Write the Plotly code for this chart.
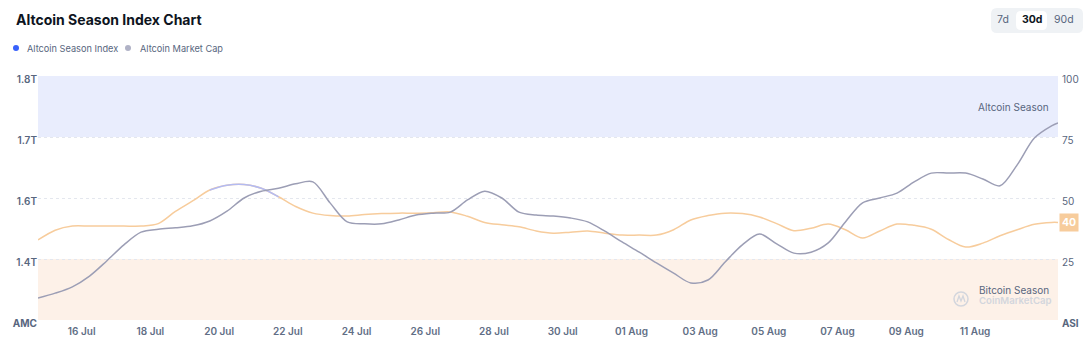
import pandas as pd
import plotly.graph_objects as go

# 12-hourly samples plus the latest reading
times = list(pd.date_range("2025-07-14 17:30", periods=60, freq="12h")) + [pd.Timestamp("2025-08-13 10:00")]

# Altcoin Season Index (0-100)
asi = [32.8, 36.8, 38.5, 38.5, 38.5, 38.5, 38.5, 39.5, 44.5, 48.8,
       53.3, 55.2, 55.5, 54.0, 50.5, 46.5, 43.8, 42.8, 42.6, 43.2,
       43.6, 43.8, 43.8, 44.0, 44.3, 42.5, 40.0, 39.0, 38.2, 36.5,
       35.6, 36.0, 36.5, 35.6, 34.8, 34.8, 34.8, 37.0, 41.0, 42.8,
       43.8, 43.6, 42.2, 39.5, 36.6, 37.6, 39.3, 37.0, 33.6, 36.5,
       39.3, 38.8, 37.2, 33.0, 29.9, 31.5, 34.5, 37.0, 39.2, 40.0, 40.0]

# Altcoin market cap, trillions USD
mcap = [1.345, 1.355, 1.368, 1.390, 1.421, 1.454, 1.480, 1.486, 1.489, 1.493,
        1.503, 1.523, 1.550, 1.564, 1.570, 1.579, 1.583, 1.540, 1.501, 1.497,
        1.497, 1.505, 1.515, 1.519, 1.521, 1.546, 1.564, 1.550, 1.521, 1.515,
        1.513, 1.509, 1.501, 1.482, 1.460, 1.439, 1.417, 1.396, 1.376, 1.382,
        1.419, 1.454, 1.476, 1.456, 1.437, 1.439, 1.458, 1.501, 1.540, 1.550,
        1.560, 1.583, 1.601, 1.601, 1.601, 1.589, 1.575, 1.618, 1.673, 1.698, 1.704]

x_ticks = ["2025-07-16", "2025-07-18", "2025-07-20", "2025-07-22", "2025-07-24", "2025-07-26",
           "2025-07-28", "2025-07-30", "2025-08-01", "2025-08-03", "2025-08-05", "2025-08-07",
           "2025-08-09", "2025-08-11"]
x_ticktext = ["16 Jul", "18 Jul", "20 Jul", "22 Jul", "24 Jul", "26 Jul", "28 Jul", "30 Jul",
              "01 Aug", "03 Aug", "05 Aug", "07 Aug", "09 Aug", "11 Aug"]
asi_ticks = [0, 25, 50, 75, 100]
asi_ticktext = ["<b>ASI</b>", "25", "50", "75", "100"]
mcap_ticks = [1.3, 1.425, 1.55, 1.675, 1.8]
mcap_ticktext = ["<b>AMC</b>", "1.4T", "1.6T", "1.7T", "1.8T"]
ranges = ["7d", "30d", "90d"]

W, H = 1092, 346
L, R, T, B = 38, 34, 76, 26
PW, PH = W - L - R, H - T - B

def px(x):
    return (x - L) / PW

def py(y):
    return (H - B - y) / PH

def rrect(x0, y0, x1, y1, r):
    pts = [
        f"M{px(x0 + r)},{py(y0)}", f"L{px(x1 - r)},{py(y0)}", f"Q{px(x1)},{py(y0)} {px(x1)},{py(y0 + r)}",
        f"L{px(x1)},{py(y1 - r)}", f"Q{px(x1)},{py(y1)} {px(x1 - r)},{py(y1)}",
        f"L{px(x0 + r)},{py(y1)}", f"Q{px(x0)},{py(y1)} {px(x0)},{py(y1 - r)}",
        f"L{px(x0)},{py(y0 + r)}", f"Q{px(x0)},{py(y0)} {px(x0 + r)},{py(y0)}", "Z",
    ]
    return " ".join(pts)

FONT = "Inter, Roboto, sans-serif"
ORANGE = "#f7cc9c"
BLUE = "#b3bbf3"
GRAY = "#9c9eb5"
TXT = "#58667e"

fig = go.Figure()

fig.add_trace(go.Scatter(x=times, y=asi, mode="lines", yaxis="y",
                         line=dict(color=ORANGE, width=1.5, shape="spline", smoothing=0.9),
                         hoverinfo="skip"))
asi_alt = [v if v >= 50 else None for v in asi]
fig.add_trace(go.Scatter(x=times, y=asi_alt, mode="lines", yaxis="y", connectgaps=False,
                         line=dict(color=BLUE, width=1.5, shape="spline", smoothing=0.9),
                         hoverinfo="skip"))
fig.add_trace(go.Scatter(x=times, y=mcap, mode="lines", yaxis="y2",
                         line=dict(color=GRAY, width=1.5, shape="spline", smoothing=0.9),
                         hoverinfo="skip"))

WM = "#d3d6dd"
shapes = [
    dict(type="rect", xref="paper", yref="y", x0=0, x1=1, y0=75, y1=100,
         fillcolor="#e9edfd", line_width=0, layer="below"),
    dict(type="rect", xref="paper", yref="y", x0=0, x1=1, y0=0, y1=25,
         fillcolor="#fdf1e8", line_width=0, layer="below"),
    # legend dots
    dict(type="circle", xref="paper", yref="paper", x0=px(13), x1=px(19), y0=py(45), y1=py(51),
         fillcolor="#3861fb", line_width=0),
    dict(type="circle", xref="paper", yref="paper", x0=px(125), x1=px(131), y0=py(45), y1=py(51),
         fillcolor="#b0b2c6", line_width=0),
    # range selector
    dict(type="path", xref="paper", yref="paper", path=rrect(991, 8, 1083, 33, 6),
         fillcolor="#eff2f5", line_width=0),
    dict(type="path", xref="paper", yref="paper", path=rrect(1016, 11, 1047, 30, 5),
         fillcolor="#ffffff", line_width=0),
    # watermark logo
    dict(type="circle", xref="paper", yref="paper", x0=px(954), x1=px(968), y0=py(292), y1=py(306),
         line=dict(color=WM, width=1.5)),
    dict(type="path", xref="paper", yref="paper",
         path=f"M{px(957)},{py(302)} L{px(959)},{py(296)} L{px(961)},{py(301)} L{px(963)},{py(296)} L{px(965)},{py(302)}",
         line=dict(color=WM, width=1.3)),
]

annotations = [
    dict(x=px(14), y=py(19), xref="paper", yref="paper", xanchor="left", yanchor="middle",
         text="<b>Altcoin Season Index Chart</b>", showarrow=False,
         font=dict(family=FONT, size=14, color="#0d1421")),
    dict(x=px(25), y=py(48), xref="paper", yref="paper", xanchor="left", yanchor="middle",
         text="Altcoin Season Index", showarrow=False, font=dict(family=FONT, size=9.2, color=TXT)),
    dict(x=px(138), y=py(48), xref="paper", yref="paper", xanchor="left", yanchor="middle",
         text="Altcoin Market Cap", showarrow=False, font=dict(family=FONT, size=9.2, color=TXT)),
    dict(x=px(1051), y=py(107), xref="paper", yref="paper", xanchor="right", yanchor="middle",
         text="Altcoin Season", showarrow=False, font=dict(family=FONT, size=10, color=TXT)),
    dict(x=px(1051), y=py(290), xref="paper", yref="paper", xanchor="right", yanchor="middle",
         text="Bitcoin Season", showarrow=False, font=dict(family=FONT, size=10, color=TXT)),
    dict(x=px(1053), y=py(300), xref="paper", yref="paper", xanchor="right", yanchor="middle",
         text="CoinMarketCap", showarrow=False, font=dict(family=FONT, size=9.6, color=WM, weight=600)),
    dict(x=px(1068.5), y=asi[-1], xref="paper", yref="y", xanchor="center", yanchor="middle",
         text=f"<b>{asi[-1]:.0f}</b>", showarrow=False, bgcolor=ORANGE, borderpad=2,
         font=dict(family=FONT, size=10.5, color="#ffffff")),
]
for label, cx in zip(ranges, [1003, 1031.5, 1064]):
    sel = label == "30d"
    annotations.append(dict(x=px(cx), y=py(20), xref="paper", yref="paper", xanchor="center",
                            yanchor="middle", text=f"<b>{label}</b>" if sel else label, showarrow=False,
                            font=dict(family=FONT, size=10.5, color="#0d1421" if sel else TXT)))

fig.update_layout(
    width=W, height=H,
    margin=dict(l=L, r=R, t=T, b=B, autoexpand=False),
    plot_bgcolor="white", paper_bgcolor="white",
    showlegend=False,
    shapes=shapes, annotations=annotations,
    xaxis=dict(type="date", range=[times[0], times[-1]], tickvals=x_ticks, ticktext=x_ticktext,
               showgrid=False, zeroline=False, showline=False, ticks="", ticklabelstandoff=4,
               automargin=False,
               tickfont=dict(family=FONT, size=10, color="#616e85", weight=600)),
    yaxis=dict(side="right", range=[0, 100], tickvals=asi_ticks, ticktext=asi_ticktext,
               showgrid=True, gridcolor="#e4e7ee", griddash="dot", zeroline=False, showline=False,
               ticks="", ticklabelshift=3, ticklabelstandoff=3, automargin=False,
               tickfont=dict(family=FONT, size=10, color=TXT)),
    yaxis2=dict(overlaying="y", side="left", range=[1.3, 1.8], tickvals=mcap_ticks,
                ticktext=mcap_ticktext, showgrid=False, zeroline=False, showline=False, ticks="",
                ticklabelshift=3, automargin=False,
                tickfont=dict(family=FONT, size=10, color=TXT, weight=600)),
)

fig.write_html("out.html")
